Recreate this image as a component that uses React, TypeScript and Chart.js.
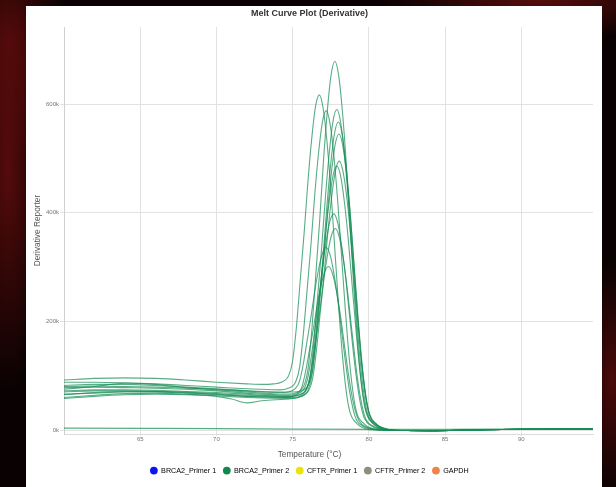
import React, { useEffect, useRef } from "react";
import { Chart, registerables } from "chart.js";

Chart.register(...registerables);

type Pt = [number, number];

// Derivative reporter values in thousands, sampled per trace: [temperature °C, value k]
const TRACE_A: Pt[] = [[60,92],[62,95],[64,96],[66,95],[68,92],[70,88],[72,85],[73,84],[73.75,85],[74.25,88],[74.75,101],[75,128],[75.25,191],[75.5,277],[75.75,362],[76,457],[76.25,537],[76.5,596],[76.75,617],[77,592],[77.25,531],[77.5,444],[77.75,339],[78,234],[78.25,142],[78.5,74],[78.75,34],[79.25,11],[79.75,3],[80.25,0]];
const TRACE_D: Pt[] = [[60,88],[62,88],[64,87],[66,85],[68,82],[70,79],[72,76],[73,75],[74.2,74],[74.7,77],[75.2,89],[75.45,115],[75.7,177],[75.95,259],[76.2,341],[76.45,434],[76.7,511],[76.95,567],[77.2,588],[77.45,564],[77.7,506],[77.95,423],[78.2,323],[78.45,223],[78.7,135],[78.95,71],[79.2,32],[79.7,11],[80.2,3],[80.7,0]];
const TRACE_K: Pt[] = [[60,82],[62,84],[64,84],[66,82],[68,79],[70,76],[72,72],[73,70],[74.2,69],[74.7,70],[75.2,77],[75.45,90],[75.7,122],[75.95,165],[76.2,208],[76.45,256],[76.7,296],[76.95,325],[77.2,336],[77.45,323],[77.7,289],[77.95,242],[78.2,185],[78.45,128],[78.7,77],[78.95,40],[79.2,18],[79.7,6],[80.2,2],[80.7,0]];
const TRACE_L: Pt[] = [[60,65],[62,69],[64,71],[66,71],[68,69],[70,66],[72,62],[73,61],[74.35,60],[74.85,61],[75.35,67],[75.6,79],[75.85,108],[76.1,147],[76.35,185],[76.6,229],[76.85,265],[77.1,291],[77.35,301],[77.6,289],[77.85,259],[78.1,217],[78.35,166],[78.6,114],[78.85,69],[79.1,36],[79.35,17],[79.85,5],[80.35,2],[80.85,0]];
const TRACE_I: Pt[] = [[60,78],[62,79],[64,78],[66,77],[68,75],[70,72],[72,68],[73,66],[74.7,64],[75.2,66],[75.7,74],[75.95,91],[76.2,131],[76.45,184],[76.7,238],[76.95,298],[77.2,348],[77.45,385],[77.7,398],[77.95,382],[78.2,342],[78.45,287],[78.7,219],[78.95,151],[79.2,92],[79.45,48],[79.7,22],[80.2,7],[80.7,2],[81.2,0]];
const TRACE_B: Pt[] = [[60,75],[62,80],[64,86],[66,84],[68,78],[70,74],[72,70],[73,68],[74.77,66],[75.27,69],[75.77,84],[76.02,115],[76.27,189],[76.52,287],[76.77,385],[77.02,495],[77.27,587],[77.52,654],[77.77,679],[78.02,652],[78.27,584],[78.52,489],[78.77,373],[79.02,258],[79.27,156],[79.52,81],[79.77,37],[80.27,12],[80.77,3],[81.27,0]];
const TRACE_J: Pt[] = [[60,72],[62,74],[64,74],[66,73],[68,71],[70,69],[72,66],[73,64],[74.8,62],[75.3,64],[75.8,71],[76.05,87],[76.3,124],[76.55,173],[76.8,223],[77.05,278],[77.3,325],[77.55,359],[77.8,371],[78.05,356],[78.3,319],[78.55,267],[78.8,204],[79.05,141],[79.3,85],[79.55,45],[79.8,20],[80.3,7],[80.8,2],[81.3,0]];
const TRACE_C: Pt[] = [[60,60],[62,64],[64,67],[66,68],[68,66],[70,63],[72,60],[73,59],[74.9,58],[75.4,61],[75.9,74],[76.15,101],[76.4,164],[76.65,250],[76.9,335],[77.15,430],[77.4,510],[77.65,569],[77.9,590],[78.15,566],[78.4,507],[78.65,425],[78.9,325],[79.15,224],[79.4,136],[79.65,71],[79.9,32],[80.4,11],[80.9,3],[81.4,0]];
const TRACE_H: Pt[] = [[60,70],[62,72],[64,72],[66,71],[68,70],[70,67],[72,64],[73,63],[74.9,62],[75.4,64],[75.9,75],[76.15,96],[76.4,147],[76.65,215],[76.9,282],[77.15,359],[77.4,422],[77.65,469],[77.9,486],[78.15,467],[78.4,418],[78.65,350],[78.9,267],[79.15,185],[79.4,112],[79.65,58],[79.9,27],[80.4,9],[80.9,2],[81.4,0]];
const TRACE_E: Pt[] = [[60,58],[62,62],[64,65],[66,66],[68,65],[70,62],[71,57],[72,50],[73,54],[75,58],[75.5,61],[76,73],[76.25,99],[76.5,160],[76.75,241],[77,323],[77.25,414],[77.5,491],[77.75,547],[78,567],[78.25,544],[78.5,488],[78.75,408],[79,312],[79.25,215],[79.5,130],[79.75,68],[80,31],[80.5,10],[81,3],[81.5,0]];
const TRACE_F: Pt[] = [[60,80],[62,81],[64,80],[66,79],[68,77],[70,75],[72,72],[73,71],[75.04,70],[75.54,72],[76.04,84],[76.29,108],[76.54,165],[76.79,241],[77.04,317],[77.29,403],[77.54,474],[77.79,526],[78.04,545],[78.29,523],[78.54,469],[78.79,392],[79.04,300],[79.29,207],[79.54,125],[79.79,65],[80.04,30],[80.54,10],[81.04,3],[81.54,0]];
const TRACE_G: Pt[] = [[60,66],[62,68],[64,70],[66,70],[68,68],[70,65],[72,62],[73,61],[75.06,60],[75.56,62],[76.06,73],[76.31,95],[76.56,147],[76.81,217],[77.06,286],[77.31,365],[77.56,430],[77.81,478],[78.06,495],[78.31,475],[78.56,426],[78.81,356],[79.06,272],[79.31,188],[79.56,114],[79.81,59],[80.06,27],[80.56,9],[81.06,2],[81.56,0]];

// Shared high-temperature tail after every product has melted
const TAIL: Pt[] = [[82.5,-1],[84,-1.2],[87,0.3],[90,1.5],[94.7,2]];

// No-template control well, flat across the run
const FLAT: Pt[] = [[60,3.5],[65,3],[70,2.5],[75,1.8],[80,1.2],[85,1],[90,1.8],[94.7,2.2]];

const TRACES: Pt[][] = [TRACE_A, TRACE_D, TRACE_K, TRACE_L, TRACE_I, TRACE_B, TRACE_J, TRACE_C, TRACE_H, TRACE_E, TRACE_F, TRACE_G];

const X_TICKS = [65, 70, 75, 80, 85, 90];
const Y_TICKS = [0, 200, 400, 600];

const TARGETS = ["BRCA2_Primer 1", "BRCA2_Primer 2", "CFTR_Primer 1", "CFTR_Primer 2", "GAPDH"];
const TARGET_COLORS = ["#0a17e8", "#0b8a4c", "#e8e40c", "#8c8f7c", "#ef8249"];

const FONT = "'Liberation Sans', Arial, Helvetica, sans-serif";
const TRACE_COLOR = "rgba(24, 142, 86, 0.72)";

export default function App() {
  const canvasRef = useRef<HTMLCanvasElement>(null);

  useEffect(() => {
    const canvas = canvasRef.current;
    if (!canvas) return;

    const toXY = (pts: Pt[]) => pts.map(([x, y]) => ({ x, y }));

    const datasets = [
      ...TRACES.map((t) => ({
        label: TARGETS[1],
        data: toXY([...t, ...TAIL]),
        borderColor: TRACE_COLOR,
        backgroundColor: TRACE_COLOR,
        borderWidth: 1.1,
        pointRadius: 0,
        cubicInterpolationMode: "monotone" as const,
        fill: false,
      })),
      {
        label: TARGETS[1],
        data: toXY(FLAT),
        borderColor: TRACE_COLOR,
        backgroundColor: TRACE_COLOR,
        borderWidth: 1.3,
        pointRadius: 0,
        cubicInterpolationMode: "monotone" as const,
        fill: false,
      },
    ];

    const chart = new Chart(canvas, {
      type: "line",
      data: { datasets },
      options: {
        animation: false,
        responsive: false,
        devicePixelRatio: 1,
        events: [],
        layout: { padding: { left: 0, right: 9, top: 0, bottom: 2.8 } },
        scales: {
          x: {
            type: "linear",
            min: 60,
            max: 94.7,
            afterBuildTicks: (scale: any) => {
              scale.ticks = X_TICKS.map((v) => ({ value: v }));
            },
            afterFit: (scale: any) => {
              scale.height = 10;
            },
            grid: { color: "#e2e2e2", lineWidth: 1, tickLength: 2, drawTicks: true },
            border: { display: true, color: "#dcdcdc" },
            ticks: {
              padding: 0,
              color: "#777",
              font: { family: FONT, size: 6 },
              maxRotation: 0,
              callback: (v: any) => String(v),
            },
          },
          y: {
            type: "linear",
            min: -7.4,
            max: 742,
            afterBuildTicks: (scale: any) => {
              scale.ticks = Y_TICKS.map((v) => ({ value: v }));
            },
            afterFit: (scale: any) => {
              scale.width = 38;
            },
            grid: { color: "#e2e2e2", lineWidth: 1, tickLength: 4, drawTicks: true },
            border: { display: true, color: "#cfcfcf" },
            ticks: {
              padding: 1,
              color: "#777",
              font: { family: FONT, size: 6 },
              callback: (v: any) => `${v}k`,
            },
            title: {
              display: true,
              text: "Derivative Reporter",
              color: "#555",
              font: { family: FONT, size: 8.3 },
              padding: { top: 7, bottom: 0 },
            },
          },
        },
        plugins: {
          title: {
            display: true,
            text: "Melt Curve Plot (Derivative)",
            color: "#333",
            font: { family: FONT, size: 9, weight: "bold" },
            padding: { top: 2.6, bottom: 7.6 },
          },
          subtitle: {
            display: true,
            position: "bottom",
            text: "Temperature (°C)",
            color: "#555",
            font: { family: FONT, size: 8.3 },
            padding: { top: 6, bottom: 0 },
          },
          legend: {
            display: true,
            position: "bottom",
            weight: 2000,
            onClick: () => {},
            labels: {
              usePointStyle: true,
              boxWidth: 7.5,
              boxHeight: 5.5,
              padding: 7,
              color: "#555",
              font: { family: FONT, size: 7.2 },
              generateLabels: () =>
                TARGETS.map((name, i) => ({
                  text: name,
                  fillStyle: TARGET_COLORS[i],
                  strokeStyle: TARGET_COLORS[i],
                  lineWidth: 0,
                  pointStyle: "circle",
                  hidden: false,
                  datasetIndex: i,
                })),
            },
          } as any,
          tooltip: { enabled: false },
        },
      },
    });

    return () => chart.destroy();
  }, []);

  return (
    <div
      style={{
        position: "fixed",
        left: 0,
        top: 0,
        width: 616,
        height: 487,
        overflow: "hidden",
        background:
          "radial-gradient(ellipse 40px 220px at 8px 170px, rgba(150,18,18,0.55), transparent 100%)," +
          "radial-gradient(ellipse 60px 120px at 10px 40px, rgba(120,14,14,0.5), transparent 100%)," +
          "radial-gradient(ellipse 160px 40px at 540px 0px, rgba(150,20,20,0.55), transparent 100%)," +
          "radial-gradient(ellipse 30px 120px at 612px 380px, rgba(140,18,18,0.5), transparent 100%)," +
          "#0a0202",
      }}
    >
      <div
        style={{
          position: "absolute",
          left: 26,
          top: 6,
          width: 576,
          height: 481,
          background: "#ffffff",
        }}
      >
        <canvas
          ref={canvasRef}
          width={576}
          height={481}
          style={{ display: "block", width: 576, height: 481 }}
        />
      </div>
    </div>
  );
}
